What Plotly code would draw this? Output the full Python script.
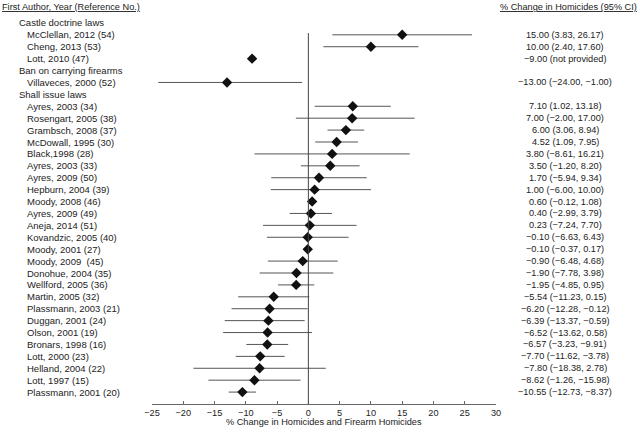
import plotly.graph_objects as go

# ---------------- data ----------------
group_names = ["Castle doctrine laws", "Ban on carrying firearms", "Shall issue laws"]
group_sizes = [3, 1, 25]

studies = [
    "McClellan, 2012 (54)", "Cheng, 2013 (53)", "Lott, 2010 (47)",
    "Villaveces, 2000 (52)",
    "Ayres, 2003 (34)", "Rosengart, 2005 (38)", "Grambsch, 2008 (37)", "McDowall, 1995 (30)",
    "Black,1998 (28)", "Ayres, 2003 (33)", "Ayres, 2009 (50)", "Hepburn, 2004 (39)",
    "Moody, 2008 (46)", "Ayres, 2009 (49)", "Aneja, 2014 (51)", "Kovandzic, 2005 (40)",
    "Moody, 2001 (27)", "Moody, 2009  (45)", "Donohue, 2004 (35)", "Wellford, 2005 (36)",
    "Martin, 2005 (32)", "Plassmann, 2003 (21)", "Duggan, 2001 (24)", "Olson, 2001 (19)",
    "Bronars, 1998 (16)", "Lott, 2000 (23)", "Helland, 2004 (22)", "Lott, 1997 (15)",
    "Plassmann, 2001 (20)",
]
estimates = [
    15.00, 10.00, -9.00,
    -13.00,
    7.10, 7.00, 6.00, 4.52, 3.80, 3.50, 1.70, 1.00, 0.60, 0.40, 0.23, -0.10,
    -0.10, -0.90, -1.90, -1.95, -5.54, -6.20, -6.39, -6.52, -6.57, -7.70, -7.80,
    -8.62, -10.55,
]
ci_first = [
    3.83, 2.40, None,
    -24.00,
    1.02, -2.00, 3.06, 1.09, -8.61, -1.20, -5.94, -6.00, -0.12, -2.99, -7.24, -6.63,
    -0.37, -6.48, -7.78, -4.85, -11.23, -12.28, -13.37, -13.62, -3.23, -11.62, -18.38,
    -1.26, -12.73,
]
ci_second = [
    26.17, 17.60, None,
    -1.00,
    13.18, 17.00, 8.94, 7.95, 16.21, 8.20, 9.34, 10.00, 1.08, 3.79, 7.70, 6.43,
    0.17, 4.68, 3.98, 0.95, 0.15, -0.12, -0.59, 0.58, -9.91, -3.78, 2.78,
    -15.98, -8.37,
]
x_ticks = [-25, -20, -15, -10, -5, 0, 5, 10, 15, 20, 25, 30]
left_header = "First Author, Year (Reference No.)"
right_header = "% Change in Homicides (95% CI)"
x_title = "% Change in Homicides and Firearm Homicides"

# ---------------- build rows ----------------
row_labels, row_is_header = [], []
study_rows = []
k = 0
for g, n in zip(group_names, group_sizes):
    row_labels.append(g)
    row_is_header.append(True)
    for _ in range(n):
        study_rows.append(len(row_labels))
        row_labels.append(studies[k])
        row_is_header.append(False)
        k += 1
n_rows = len(row_labels)

def fmt(v):
    s = f"{abs(v):.2f}"
    return ("\u2212" + s) if v < 0 else s

err_plus, err_minus, ci_text = [], [], []
for e, a, b in zip(estimates, ci_first, ci_second):
    if a is None:
        err_plus.append(0)
        err_minus.append(0)
        ci_text.append(f"{fmt(e)} (not provided)")
    else:
        lo, hi = min(a, b), max(a, b)
        err_plus.append(hi - e)
        err_minus.append(e - lo)
        ci_text.append(f"{fmt(e)} ({fmt(a)}, {fmt(b)})")

# ---------------- figure ----------------
FONT = "Liberation Sans, Arial, Helvetica, sans-serif"
TXT = "#222222"
L, R, T, B = 152, 144, 11, 31
W, H = 640, 435
pw = W - L - R
ph = H - T - B
LAB_SIZE = 9.5
SMALL = 9.2
RIGHT_CX = 565

def px_to_paper_x(px):
    return (px - L) / pw

fig = go.Figure()
fig.add_trace(go.Scatter(
    x=estimates, y=study_rows, mode="markers",
    marker=dict(symbol="diamond", size=8, color="#111111"),
    error_x=dict(type="data", symmetric=False, array=err_plus, arrayminus=err_minus,
                 color="#555555", thickness=1, width=0),
    hoverinfo="skip", showlegend=False,
))

annotations = []
for i, (lab, hdr) in enumerate(zip(row_labels, row_is_header)):
    annotations.append(dict(
        x=px_to_paper_x(17 if hdr else 25), xref="paper", y=i, yref="y",
        text=lab, showarrow=False, xanchor="left", yanchor="middle",
        font=dict(family=FONT, size=LAB_SIZE, color=TXT),
    ))
for r, t in zip(study_rows, ci_text):
    annotations.append(dict(
        x=px_to_paper_x(RIGHT_CX), xref="paper", y=r, yref="y",
        text=t, showarrow=False, xanchor="center", yanchor="middle",
        font=dict(family=FONT, size=SMALL, color=TXT),
    ))
annotations.append(dict(
    x=px_to_paper_x(0), xref="paper", y=1 + (T - 7) / ph, yref="paper",
    text=f"<u>{left_header}</u>", showarrow=False, xanchor="left", yanchor="middle",
    font=dict(family=FONT, size=SMALL, color=TXT),
))
annotations.append(dict(
    x=px_to_paper_x(RIGHT_CX + 3), xref="paper", y=1 + (T - 7) / ph, yref="paper",
    text=f"<u>{right_header}</u>", showarrow=False, xanchor="center", yanchor="middle",
    font=dict(family=FONT, size=SMALL, color=TXT),
))
annotations.append(dict(
    x=px_to_paper_x(324), xref="paper", y=-(422 - (H - B)) / ph, yref="paper",
    text=x_title, showarrow=False, xanchor="center", yanchor="middle",
    font=dict(family=FONT, size=SMALL, color=TXT),
))

fig.update_layout(
    width=W, height=H,
    margin=dict(l=L, r=R, t=T, b=B, pad=0),
    paper_bgcolor="white", plot_bgcolor="white",
    font=dict(family=FONT, size=SMALL, color=TXT),
    xaxis=dict(range=[x_ticks[0], x_ticks[-1]], tickvals=x_ticks,
               showgrid=False, zeroline=False, showline=True, linecolor="#666666",
               linewidth=1, ticks="inside", ticklen=3, tickcolor="#666666",
               tickfont=dict(family=FONT, size=SMALL, color=TXT), fixedrange=True),
    yaxis=dict(range=[n_rows, -1], visible=False, showgrid=False, zeroline=False,
               fixedrange=True),
    annotations=annotations,
    shapes=[dict(type="line", xref="x", yref="y", x0=0, x1=0, y0=0.85, y1=n_rows,
                 line=dict(color="#444444", width=1))],
)

fig.write_html("out.html", config={"displayModeBar": False},
               post_script="document.body.style.margin='0';document.body.style.padding='0';")
